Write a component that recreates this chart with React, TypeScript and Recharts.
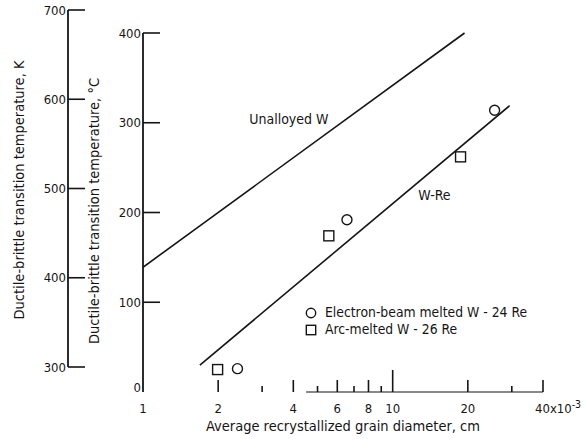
import {
  ComposedChart,
  LineChart,
  Line,
  Scatter,
  XAxis,
  YAxis,
  ReferenceLine,
  ReferenceDot,
  Legend,
  Label,
} from "recharts";

const X_TICKS = [1, 2, 3, 4, 5, 6, 7, 8, 9, 10, 20, 30, 40];
const X_LABELS = [1, 2, 4, 6, 8, 10, 20, 40];
const C_TICKS = [0, 100, 200, 300, 400];
const K_TICKS = [300, 400, 500, 600, 700];

const unalloyedW = [
  { x: 1, y: 139 },
  { x: 19.4, y: 400 },
];
const wRe = [
  { x: 1.69, y: 30 },
  { x: 29.4, y: 319 },
];
const electronBeam = [
  { x: 2.39, y: 26 },
  { x: 6.56, y: 192 },
  { x: 25.6, y: 314 },
];
const arcMelted = [
  { x: 1.99, y: 25 },
  { x: 5.55, y: 174 },
  { x: 18.7, y: 262 },
];

const INK = "#151515";
const FONT = '"DejaVu Sans Condensed", "DejaVu Sans", sans-serif';

function tickLength(v: number) {
  if (v === 1) return 0;
  if (v === 10) return 22;
  if ([2, 4, 6, 8, 20, 40].includes(v)) return 12;
  return 6;
}

function XTick({ x, y, payload }: any) {
  const v = payload.value;
  const len = tickLength(v);
  return (
    <g>
      {len > 0 && <line x1={x} x2={x} y1={y} y2={y - len} stroke={INK} strokeWidth={1.6} />}
      {X_LABELS.includes(v) &&
        (v === 40 ? (
          <text x={x - 8} y={y + 21} fontSize={13} fill={INK} textAnchor="start">
            40x10
            <tspan dy={-5} fontSize={10.5}>
              -3
            </tspan>
          </text>
        ) : (
          <text x={x} y={y + 21} fontSize={13} fill={INK} textAnchor="middle">
            {v}
          </text>
        ))}
    </g>
  );
}

function YTick({ x, y, payload }: any) {
  const v = payload.value;
  return (
    <g>
      {v !== 0 && <line x1={x} x2={x + 17} y1={y} y2={y} stroke={INK} strokeWidth={1.6} />}
      <text x={x - 2} y={v === 0 ? y : y + 4.5} fontSize={13} fill={INK} textAnchor="end">
        {v}
      </text>
    </g>
  );
}

function KTick({ x, y, payload }: any) {
  return (
    <g>
      <line x1={x} x2={x + 17} y1={y} y2={y} stroke={INK} strokeWidth={1.6} />
      <text x={x - 2} y={y + 4.5} fontSize={13} fill={INK} textAnchor="end">
        {payload.value}
      </text>
    </g>
  );
}

function sideTitle(text: string, cx: number, cy: number) {
  return ({ viewBox }: any) => (
    <text
      transform={`translate(${viewBox.x + cx},${cy}) rotate(-90)`}
      textAnchor="middle"
      dominantBaseline="middle"
      fontSize={14.5}
      fill={INK}
    >
      {text}
    </text>
  );
}

function LegendBox({ payload }: any) {
  const items = (payload || [])
    .filter((p: any) => p.type === "circle" || p.type === "square")
    .sort((a: any, b: any) => (a.type === "circle" ? -1 : 1) - (b.type === "circle" ? -1 : 1));
  return (
    <div style={{ fontSize: 13.8, color: INK, lineHeight: "17px" }}>
      {items.map((p: any) => (
        <div key={p.value} style={{ display: "flex", alignItems: "center", whiteSpace: "nowrap" }}>
          <svg width={12} height={12} style={{ marginRight: 8 }}>
            {p.type === "circle" ? (
              <circle cx={6} cy={6} r={4.7} fill="none" stroke={INK} strokeWidth={1.4} />
            ) : (
              <rect x={1.3} y={1.3} width={9.4} height={9.4} fill="none" stroke={INK} strokeWidth={1.4} />
            )}
          </svg>
          {p.value}
        </div>
      ))}
    </div>
  );
}

export default function App() {
  return (
    <div
      style={{
        position: "absolute",
        left: 0,
        top: 0,
        width: 587,
        height: 439,
        background: "#fff",
        fontFamily: FONT,
      }}
    >
      <div style={{ position: "absolute", left: 0, top: 0 }}>
        <LineChart
          width={587}
          height={439}
          data={K_TICKS.map((k) => ({ k }))}
          margin={{ top: 10, right: 487, bottom: 72, left: 0 }}
        >
          <XAxis hide dataKey="k" />
          <YAxis
            type="number"
            domain={[300, 700]}
            ticks={K_TICKS}
            width={68}
            tickSize={0}
            tickMargin={0}
            tick={<KTick />}
            axisLine={{ stroke: INK, strokeWidth: 1.8 }}
            tickLine={false}
            interval={0}
          >
            <Label content={sideTitle("Ductile-brittle transition temperature, K", 20, 190)} />
          </YAxis>
          <Line dataKey="k" stroke="none" dot={false} legendType="none" isAnimationActive={false} />
        </LineChart>
      </div>
      <div style={{ position: "absolute", left: 0, top: 0 }}>
        <ComposedChart width={587} height={439} margin={{ top: 33, right: 44, bottom: 7, left: 0 }}>
          <XAxis
            type="number"
            dataKey="x"
            scale="log"
            domain={[1, 40]}
            allowDataOverflow
            ticks={X_TICKS}
            interval={0}
            height={40}
            tickSize={0}
            tickMargin={0}
            tick={<XTick />}
            axisLine={false}
            tickLine={false}
          >
            <Label
              value="Average recrystallized grain diameter, cm"
              position="insideBottom"
              offset={1}
              fontSize={14.5}
              fill={INK}
            />
          </XAxis>
          <YAxis
            type="number"
            dataKey="y"
            domain={[0, 400]}
            ticks={C_TICKS}
            interval={0}
            width={143}
            tickSize={0}
            tickMargin={0}
            tick={<YTick />}
            axisLine={{ stroke: INK, strokeWidth: 1.8 }}
            tickLine={false}
          >
            <Label content={sideTitle("Ductile-brittle transition temperature, °C", 95, 211)} />
          </YAxis>
          <ReferenceLine
            segment={[
              { x: 4.5, y: 0 },
              { x: 40, y: 0 },
            ]}
            stroke={INK}
            strokeWidth={1.2}
          />
          <Line
            data={unalloyedW}
            dataKey="y"
            type="linear"
            stroke={INK}
            strokeWidth={1.6}
            dot={false}
            legendType="none"
            isAnimationActive={false}
          />
          <Line
            data={wRe}
            dataKey="y"
            type="linear"
            stroke={INK}
            strokeWidth={1.6}
            dot={false}
            legendType="none"
            isAnimationActive={false}
          />
          <Scatter
            name="Electron-beam melted W - 24 Re"
            data={electronBeam}
            legendType="circle"
            isAnimationActive={false}
            shape={(p: any) => <circle cx={p.cx} cy={p.cy} r={5} fill="none" stroke={INK} strokeWidth={1.4} />}
          />
          <Scatter
            name="Arc-melted W - 26 Re"
            data={arcMelted}
            legendType="square"
            isAnimationActive={false}
            shape={(p: any) => (
              <rect x={p.cx - 5} y={p.cy - 5} width={10} height={10} fill="none" stroke={INK} strokeWidth={1.4} />
            )}
          />
          <ReferenceDot x={3.84} y={304} r={1} fill="none" stroke="none">
            <Label value="Unalloyed W" position="center" fontSize={14} fill={INK} />
          </ReferenceDot>
          <ReferenceDot x={14.7} y={219} r={1} fill="none" stroke="none">
            <Label value="W-Re" position="center" fontSize={14} fill={INK} />
          </ReferenceDot>
          <Legend
            layout="vertical"
            align="center"
            verticalAlign="middle"
            content={<LegendBox />}
            wrapperStyle={{ left: 305, top: 304, width: "auto" }}
          />
        </ComposedChart>
      </div>
    </div>
  );
}
